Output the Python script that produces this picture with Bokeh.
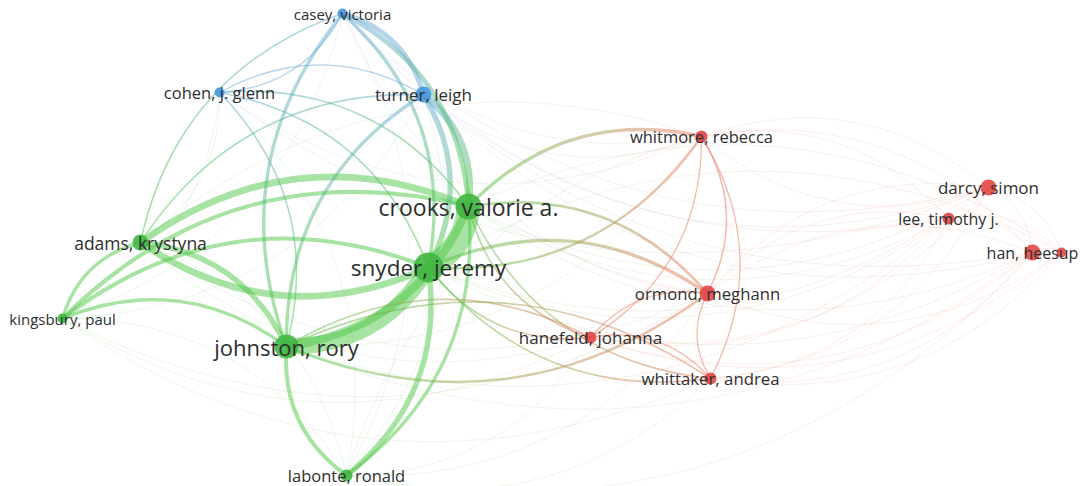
from bokeh.plotting import figure
from bokeh.models import ColumnDataSource, Range1d
from bokeh.core.properties import value
from bokeh.embed import file_html
from bokeh.resources import INLINE

# ---- co-authorship network: authors, layout positions, clusters, weights ----
authors = ["casey, victoria", "cohen, j. glenn", "turner, leigh", "whitmore, rebecca",
           "crooks, valorie a.", "darcy, simon", "lee, timothy j.", "han, heesup", "",
           "adams, krystyna", "snyder, jeremy", "ormond, meghann", "kingsbury, paul",
           "johnston, rory", "hanefeld, johanna", "whittaker, andrea", "labonte, ronald"]
pos_x = [342, 219, 423, 701, 468, 988, 948, 1032, 1061, 140, 428, 707, 62, 286, 590, 710, 346]
pos_y = [13, 92, 94, 136, 206, 187, 218, 252, 252, 242, 267, 293, 318, 346, 337, 378, 475]
cluster = [2, 2, 2, 1, 3, 1, 1, 1, 1, 3, 3, 1, 3, 3, 1, 1, 3]
node_weight = [5, 5, 8, 6, 13, 8, 6, 8, 5, 8, 15, 8, 5, 12, 6, 6, 6]
label_size = [15, 16.5, 17, 16.5, 23, 17, 16, 16, 16, 17.5, 22.5, 16.7, 15, 22, 17, 16.8, 16.5]

# links: (author index, author index, link strength)
links = [
    (4, 10, 17), (10, 13, 12), (4, 13, 6),
    (9, 4, 5), (10, 9, 5), (9, 13, 4),
    (12, 4, 3), (12, 10, 3), (12, 13, 2.5), (12, 9, 2.5),
    (2, 4, 5), (2, 10, 4), (0, 2, 3.5), (0, 4, 3.5), (0, 10, 2.5),
    (13, 0, 2.5), (13, 2, 2.5),
    (1, 4, 1.2), (1, 10, 1.2), (1, 13, 1.2), (1, 2, 1), (0, 1, 1),
    (9, 2, 1.2), (9, 0, 1.2),
    (10, 16, 4), (16, 13, 3), (4, 16, 2.5),
    (4, 3, 2.5), (3, 10, 1.8), (10, 11, 2.5), (4, 11, 2), (11, 13, 1.8),
    (3, 11, 1.2),
    (14, 4, 1.2), (14, 10, 1.2), (13, 14, 1.2), (14, 11, 1), (14, 15, 1), (3, 14, 1),
    (15, 10, 1.2), (15, 4, 1.2), (13, 15, 1.2), (15, 11, 1), (3, 15, 1),
]
# weak links: (author index, author index)
weak_links = [
    (5, 6), (6, 7), (5, 7), (7, 8), (5, 8), (6, 8),
    (11, 5), (11, 6), (11, 7), (3, 5), (3, 6), (3, 7),
    (3, 0), (5, 0), (6, 0), (11, 0), (0, 12), (0, 16), (1, 9), (1, 12), (3, 1), (1, 16),
    (3, 2), (11, 2), (5, 2), (7, 2), (2, 12), (2, 16), (5, 3), (3, 13), (9, 3), (16, 3),
    (5, 4), (6, 4), (7, 4), (5, 10), (6, 10), (7, 10), (6, 13), (7, 13), (11, 16),
    (15, 16), (14, 16), (7, 16), (12, 16), (11, 12), (14, 12), (15, 12), (11, 9),
    (14, 9), (9, 16), (6, 14), (7, 14), (5, 14), (6, 15), (7, 15), (5, 15), (8, 11),
    (7, 0), (5, 1), (8, 15), (8, 14), (4, 8), (10, 8),
]

node_rgb = {1: (226, 70, 70), 2: (70, 150, 222), 3: (64, 182, 64)}
edge_rgb = {1: (236, 120, 95), 2: (105, 170, 215), 3: (80, 200, 70)}


def to_hex(rgb):
    return "#%02x%02x%02x" % tuple(int(round(c)) for c in rgb)


def mix(c0, c1, t):
    return [u + (v - u) * t for u, v in zip(c0, c1)]


def link_table(pairs, strengths, width_scale, pieces=6, bend=0.28):
    """Curved links, split into pieces so the colour fades from one author to the other."""
    d = dict(x0=[], y0=[], x1=[], y1=[], cx=[], cy=[], w=[], c=[])
    for (a, b), s in zip(pairs, strengths):
        p0 = (pos_x[a], pos_y[a])
        p1 = (pos_x[b], pos_y[b])
        dx, dy = p1[0] - p0[0], p1[1] - p0[1]
        pc = ((p0[0] + p1[0]) / 2 + dy * bend, (p0[1] + p1[1]) / 2 - dx * bend)
        ca, cb = edge_rgb[cluster[a]], edge_rgb[cluster[b]]

        def blossom(u, v):
            w0 = (1 - u) * (1 - v)
            w1 = u * (1 - v) + v * (1 - u)
            w2 = u * v
            return (w0 * p0[0] + w1 * pc[0] + w2 * p1[0],
                    w0 * p0[1] + w1 * pc[1] + w2 * p1[1])

        for k in range(pieces):
            t0, t1 = k / pieces, (k + 1) / pieces
            s0, s1, sc = blossom(t0, t0), blossom(t1, t1), blossom(t0, t1)
            d["x0"].append(s0[0]); d["y0"].append(s0[1])
            d["x1"].append(s1[0]); d["y1"].append(s1[1])
            d["cx"].append(sc[0]); d["cy"].append(sc[1])
            d["w"].append(max(0.6, s * width_scale))
            d["c"].append(to_hex(mix(ca, cb, (t0 + t1) / 2)))
    return ColumnDataSource(d)


p = figure(width=1083, height=486, x_range=Range1d(0, 1083), y_range=Range1d(486, 0),
           output_backend="svg", toolbar_location=None, min_border=0,
           background_fill_color="white", border_fill_color="white")
p.axis.visible = False
p.grid.visible = False
p.outline_line_color = None

weak_src = link_table(weak_links, [1] * len(weak_links), 0.7)
p.quadratic(x0="x0", y0="y0", x1="x1", y1="y1", cx="cx", cy="cy", source=weak_src,
            line_color="c", line_width="w", line_alpha=0.18, line_cap="butt")

link_src = link_table([(a, b) for a, b, _ in links], [s for _, _, s in links], 1.35)
p.quadratic(x0="x0", y0="y0", x1="x1", y1="y1", cx="cx", cy="cy", source=link_src,
            line_color="c", line_width="w", line_alpha=0.5, line_cap="butt")

node_src = ColumnDataSource(dict(
    x=pos_x, y=pos_y, size=[2 * w for w in node_weight],
    color=[to_hex(node_rgb[c]) for c in cluster],
    label=authors, fs=["%gpx" % s for s in label_size],
))
p.scatter("x", "y", size="size", fill_color="color", line_color=None, fill_alpha=0.9,
          source=node_src)
p.text("x", "y", text="label", source=node_src, text_align="center",
       text_baseline="middle", text_font=value("Open Sans"), text_font_size="fs",
       text_color="#2e2e2e")

open("out.html", "w").write(file_html(p, INLINE))
